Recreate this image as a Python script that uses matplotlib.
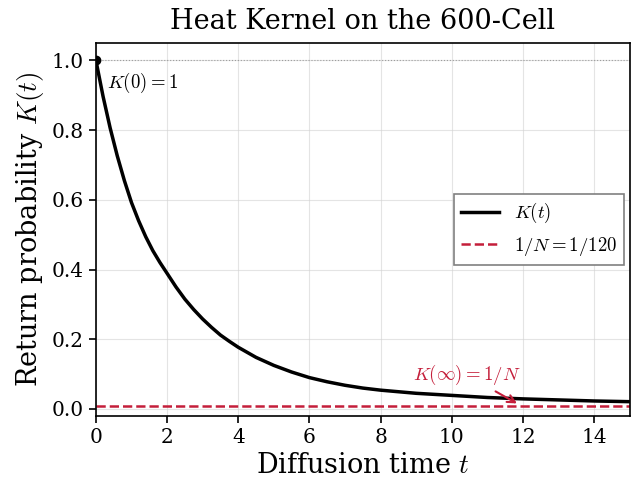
import numpy as np
import matplotlib
matplotlib.use('Agg')
import matplotlib.pyplot as plt

plt.rcParams['font.family'] = 'DejaVu Serif'
plt.rcParams['mathtext.fontset'] = 'cm'

# Return probability
t_vals = [0, 0.2, 0.4, 0.6, 0.8, 1.0, 1.2, 1.4, 1.6, 1.8, 2.0, 2.25, 2.5, 2.75,
          3.0, 3.25, 3.5, 3.75, 4.0, 4.5, 5.0, 5.5, 6.0, 6.5, 7.0, 7.5, 8.0,
          9.0, 10.0, 11.0, 12.0, 13.0, 14.0, 15.0]
K_vals = [1.0, 0.897, 0.806, 0.726, 0.655, 0.592, 0.540, 0.494, 0.454, 0.420,
          0.389, 0.350, 0.315, 0.285, 0.258, 0.234, 0.212, 0.194, 0.177, 0.148,
          0.125, 0.106, 0.090, 0.078, 0.068, 0.060, 0.054, 0.045, 0.039, 0.033,
          0.029, 0.026, 0.023, 0.021]
N = 120
x_ticks = [0, 2, 4, 6, 8, 10, 12, 14]
y_ticks = [0.0, 0.2, 0.4, 0.6, 0.8, 1.0]

red = '#C41E3A'

fig = plt.figure(figsize=(6.31, 4.82), dpi=100)
ax = fig.add_axes([0.152, 0.137, 0.846, 0.774])

ax.axhline(1.0, color='gray', linestyle=':', linewidth=0.8, alpha=0.7)
ax.plot(t_vals, K_vals, color='black', linewidth=2.5, label=r'$K(t)$')
ax.axhline(1 / N, color=red, linestyle='--', linewidth=1.8,
           label=r'$1/N = 1/120$')
ax.plot([0], [1.0], 'o', color='black', markersize=6)

ax.text(0.3, 0.935, r'$K(0) = 1$', fontsize=13.5, ha='left', va='center')
ax.annotate(r'$K(\infty) = 1/N$', xy=(11.9, 0.012), xytext=(10.42, 0.097),
            fontsize=13.5, color=red, ha='center', va='center',
            arrowprops=dict(arrowstyle='->', color=red, lw=1.5))

ax.set_xlim(0, 15)
ax.set_ylim(-0.02, 1.05)
ax.set_xticks(x_ticks)
ax.set_yticks(y_ticks)
ax.set_title('Heat Kernel on the 600-Cell', fontsize=19.5, pad=10)
ax.set_xlabel(r'Diffusion time $t$', fontsize=19.5)
ax.set_ylabel(r'Return probability $K(t)$', fontsize=19.5)
ax.tick_params(axis='both', which='major', labelsize=14.5, length=5, width=1.2)
for s in ax.spines.values():
    s.set_linewidth(1.2)
ax.grid(True, color='lightgray', linewidth=0.8, alpha=0.6)

leg = ax.legend(loc='center right', fontsize=13.5, fancybox=False,
                edgecolor='gray', framealpha=1, borderaxespad=0.3)
leg.get_frame().set_linewidth(1.2)

fig.savefig('out.png', dpi=100)
